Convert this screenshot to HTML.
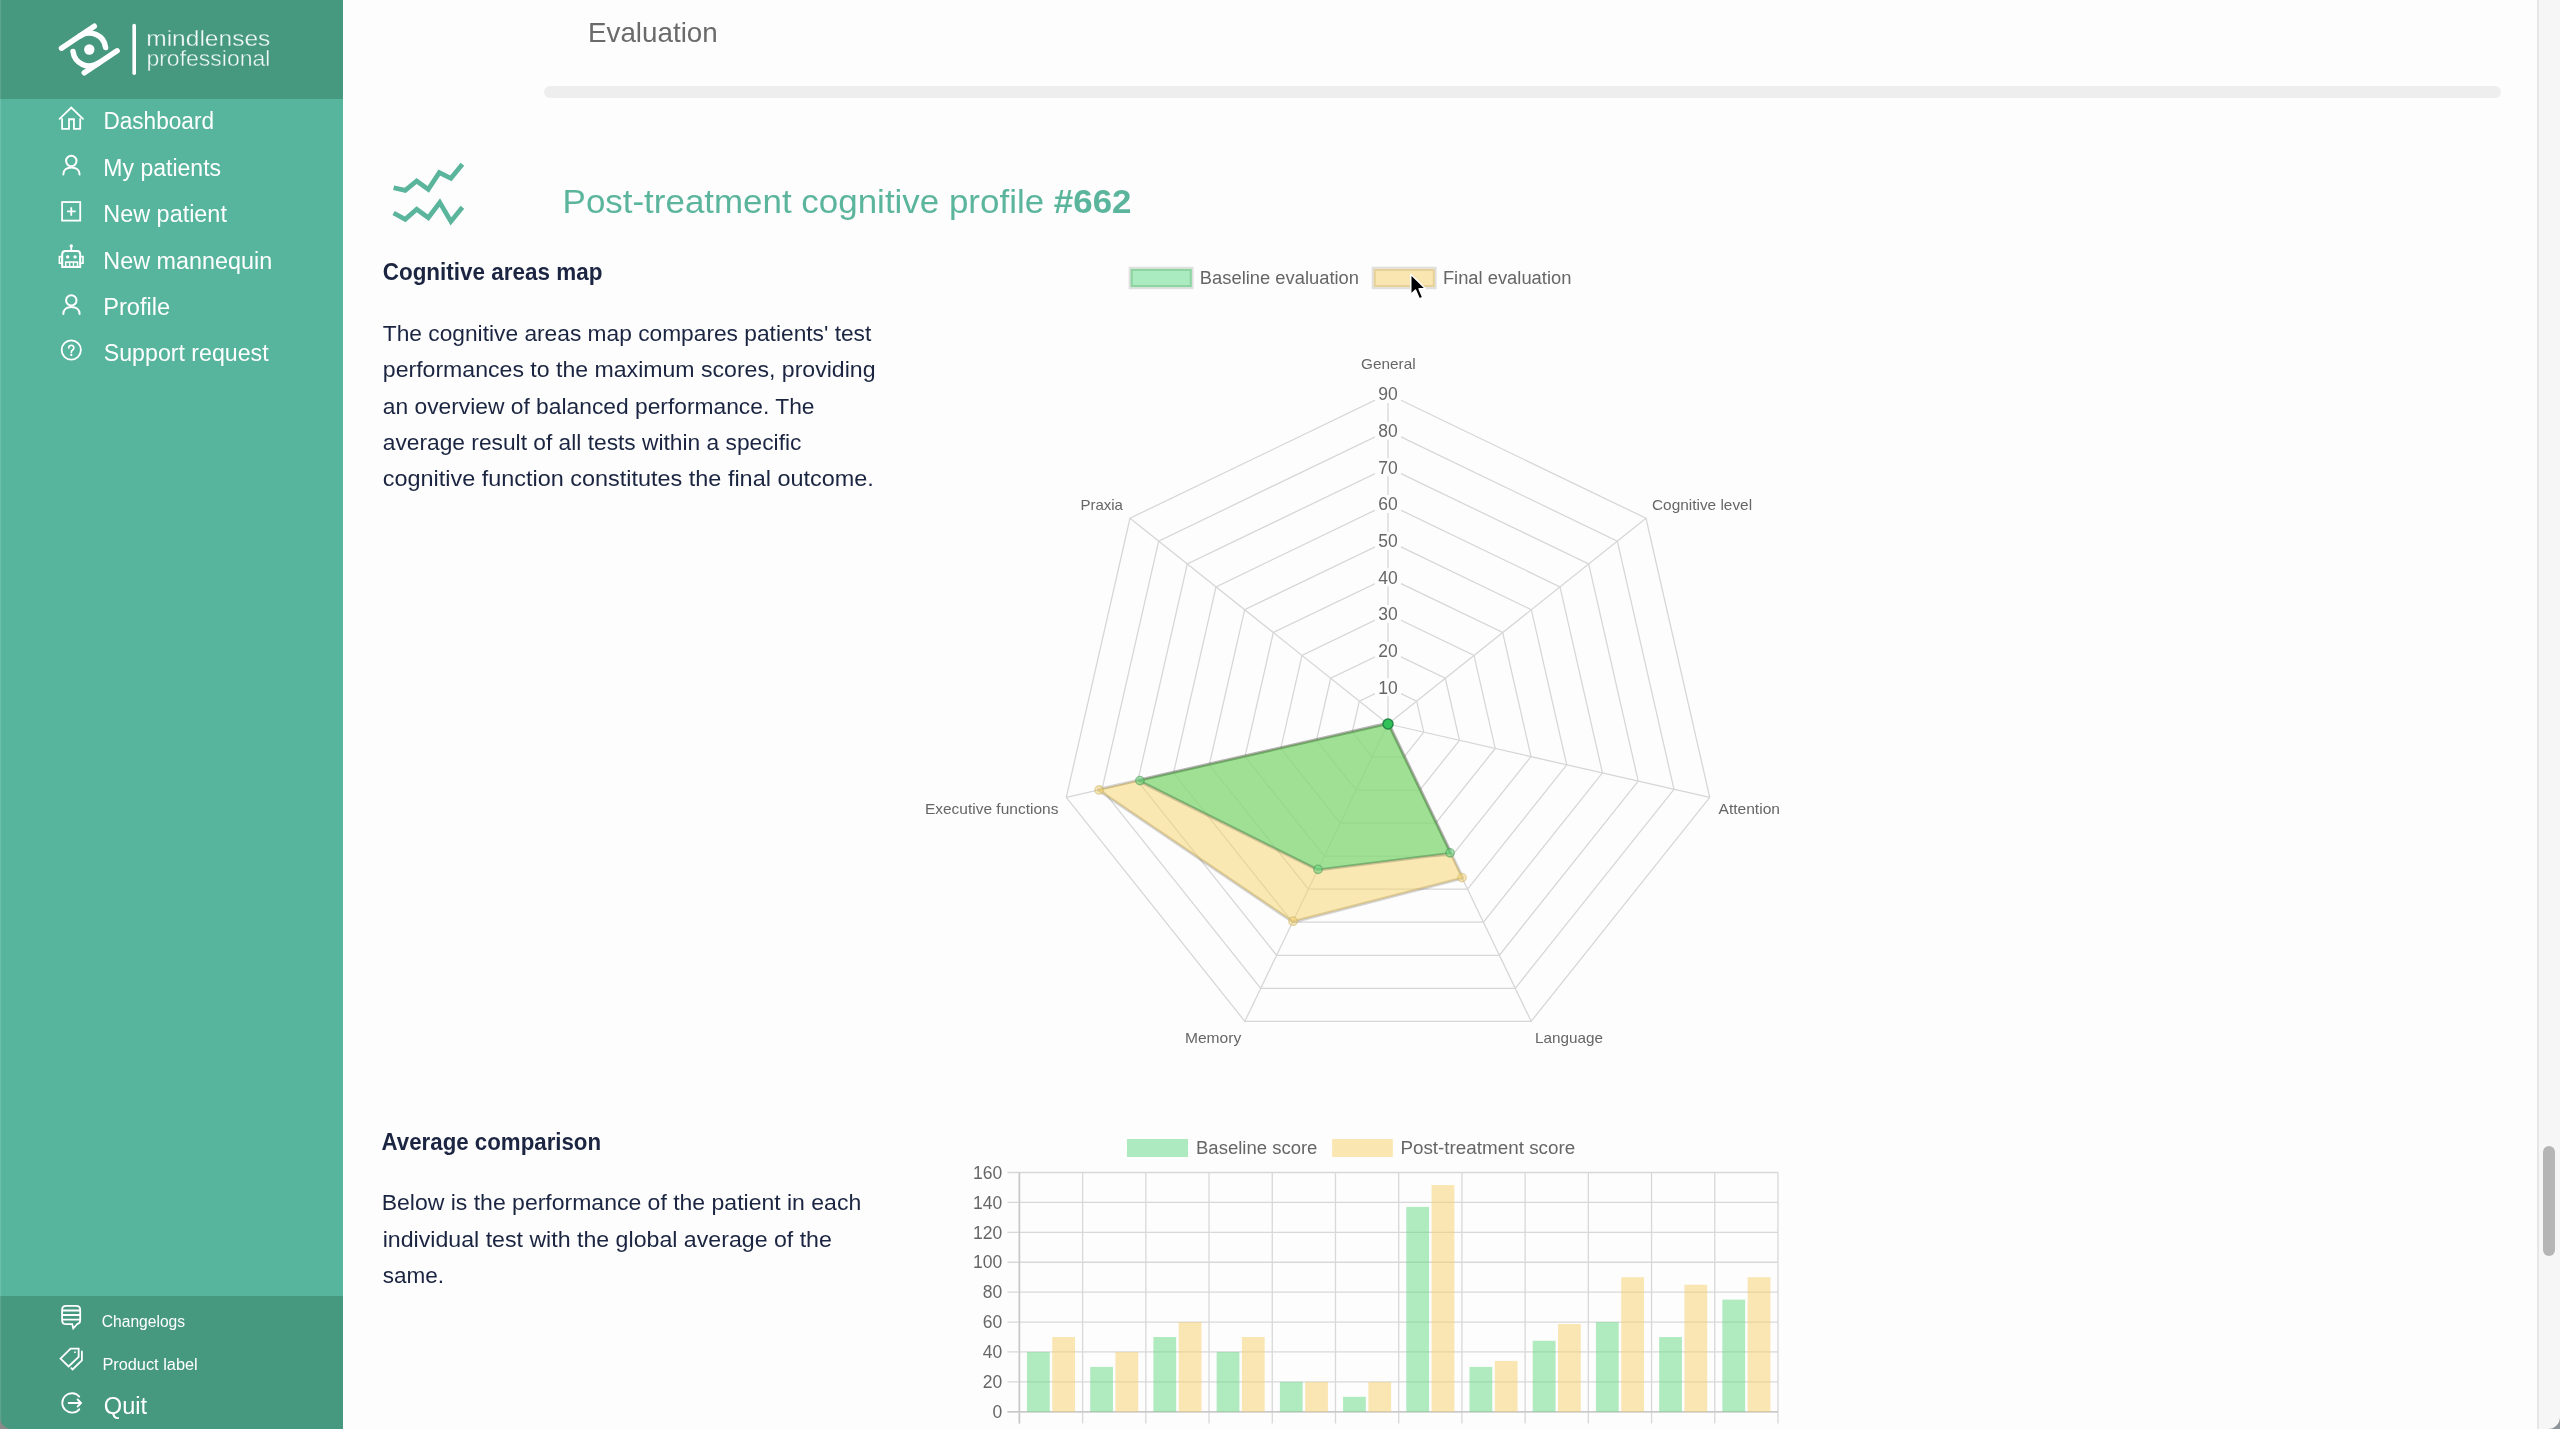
<!DOCTYPE html>
<html><head><meta charset="utf-8"><title>Evaluation - mindlenses professional</title>
<style>
html,body{margin:0;padding:0;width:2560px;height:1429px;overflow:hidden;background:#fdfdfd;font-family:"Liberation Sans", sans-serif;}
svg{display:block;will-change:transform;}
</style></head><body>
<svg width="2560" height="1429" viewBox="0 0 2560 1429" font-family='"Liberation Sans", sans-serif'><rect x="343" y="0" width="2194" height="1429" fill="#fdfdfd"/><text x="588.0" y="42.0" font-size="28" fill="#6a6a6a" textLength="129.7" lengthAdjust="spacingAndGlyphs">Evaluation</text><rect x="544" y="86" width="1957" height="12" rx="6" fill="#eeeeee"/><g stroke="#5bb59c" stroke-width="4.7" fill="none" stroke-linejoin="miter" stroke-miterlimit="10"><polyline points="393.6,187.8 405.2,190.4 416.7,181 428.3,189.4 439.3,172.6 450.9,178.3 462.4,164.2"/><polyline points="393.6,213 405.2,219.3 416.7,209.3 428.3,217.7 439.8,202.5 450.9,221.4 462.4,207.2"/></g><text x="562.6" y="213.0" font-size="33" fill="#5bb59c" textLength="568.9" lengthAdjust="spacingAndGlyphs">Post-treatment cognitive profile <tspan font-weight="bold">#662</tspan></text><text x="382.7" y="279.6" font-size="23" font-weight="bold" fill="#1b2541" textLength="219.7" lengthAdjust="spacingAndGlyphs">Cognitive areas map</text><text x="382.8" y="340.5" font-size="22" fill="#1b2541" textLength="488.5" lengthAdjust="spacingAndGlyphs">The cognitive areas map compares patients' test</text><text x="382.8" y="377.0" font-size="22" fill="#1b2541" textLength="492.7" lengthAdjust="spacingAndGlyphs">performances to the maximum scores, providing</text><text x="382.8" y="413.6" font-size="22" fill="#1b2541" textLength="431.7" lengthAdjust="spacingAndGlyphs">an overview of balanced performance. The</text><text x="382.8" y="450.2" font-size="22" fill="#1b2541" textLength="418.6" lengthAdjust="spacingAndGlyphs">average result of all tests within a specific</text><text x="382.7" y="485.7" font-size="22" fill="#1b2541" textLength="491.1" lengthAdjust="spacingAndGlyphs">cognitive function constitutes the final outcome.</text><text x="381.6" y="1149.6" font-size="23" font-weight="bold" fill="#1b2541" textLength="219.5" lengthAdjust="spacingAndGlyphs">Average comparison</text><text x="381.7" y="1210.0" font-size="22" fill="#1b2541" textLength="479.5" lengthAdjust="spacingAndGlyphs">Below is the performance of the patient in each</text><text x="382.7" y="1246.5" font-size="22" fill="#1b2541" textLength="449.2" lengthAdjust="spacingAndGlyphs">individual test with the global average of the</text><text x="382.8" y="1282.7" font-size="22" fill="#1b2541" textLength="61.3" lengthAdjust="spacingAndGlyphs">same.</text><polygon points="1388.00,687.33 1416.67,701.14 1423.75,732.16 1403.91,757.04 1372.09,757.04 1352.25,732.16 1359.33,701.14" fill="none" stroke="#d6d6d6" stroke-width="1.25"/><polygon points="1388.00,650.67 1445.33,678.28 1459.49,740.32 1419.82,790.07 1356.18,790.07 1316.51,740.32 1330.67,678.28" fill="none" stroke="#d6d6d6" stroke-width="1.25"/><polygon points="1388.00,614.00 1474.00,655.42 1495.24,748.48 1435.73,823.11 1340.27,823.11 1280.76,748.48 1302.00,655.42" fill="none" stroke="#d6d6d6" stroke-width="1.25"/><polygon points="1388.00,577.33 1502.67,632.55 1530.99,756.64 1451.64,856.14 1324.36,856.14 1245.01,756.64 1273.33,632.55" fill="none" stroke="#d6d6d6" stroke-width="1.25"/><polygon points="1388.00,540.67 1531.34,609.69 1566.74,764.80 1467.55,889.18 1308.45,889.18 1209.26,764.80 1244.66,609.69" fill="none" stroke="#d6d6d6" stroke-width="1.25"/><polygon points="1388.00,504.00 1560.00,586.83 1602.48,772.95 1483.45,922.21 1292.55,922.21 1173.52,772.95 1216.00,586.83" fill="none" stroke="#d6d6d6" stroke-width="1.25"/><polygon points="1388.00,467.33 1588.67,563.97 1638.23,781.11 1499.36,955.25 1276.64,955.25 1137.77,781.11 1187.33,563.97" fill="none" stroke="#d6d6d6" stroke-width="1.25"/><polygon points="1388.00,430.67 1617.34,541.11 1673.98,789.27 1515.27,988.28 1260.73,988.28 1102.02,789.27 1158.66,541.11" fill="none" stroke="#d6d6d6" stroke-width="1.25"/><polygon points="1388.00,394.00 1646.00,518.25 1709.73,797.43 1531.18,1021.32 1244.82,1021.32 1066.27,797.43 1130.00,518.25" fill="none" stroke="#d6d6d6" stroke-width="1.25"/><line x1="1388.0" y1="724.0" x2="1388.00" y2="394.00" stroke="#d6d6d6" stroke-width="1.25"/><line x1="1388.0" y1="724.0" x2="1646.00" y2="518.25" stroke="#d6d6d6" stroke-width="1.25"/><line x1="1388.0" y1="724.0" x2="1709.73" y2="797.43" stroke="#d6d6d6" stroke-width="1.25"/><line x1="1388.0" y1="724.0" x2="1531.18" y2="1021.32" stroke="#d6d6d6" stroke-width="1.25"/><line x1="1388.0" y1="724.0" x2="1244.82" y2="1021.32" stroke="#d6d6d6" stroke-width="1.25"/><line x1="1388.0" y1="724.0" x2="1066.27" y2="797.43" stroke="#d6d6d6" stroke-width="1.25"/><line x1="1388.0" y1="724.0" x2="1130.00" y2="518.25" stroke="#d6d6d6" stroke-width="1.25"/><mask id="mF" maskUnits="userSpaceOnUse" x="900" y="300" width="900" height="800"><rect x="900" y="300" width="900" height="800" fill="#fff"/><polygon points="1388.00,724.00 1388.00,724.00 1388.00,724.00 1461.98,877.62 1293.02,921.22 1099.16,789.93 1388.00,724.00" fill="#000"/></mask><mask id="mB" maskUnits="userSpaceOnUse" x="900" y="300" width="900" height="800"><rect x="900" y="300" width="900" height="800" fill="#fff"/><polygon points="1388.00,724.00 1388.00,724.00 1388.00,724.00 1450.05,852.84 1318.00,869.36 1139.91,780.62 1388.00,724.00" fill="#000"/></mask><polygon points="1388.00,724.00 1388.00,724.00 1388.00,724.00 1461.98,877.62 1293.02,921.22 1099.16,789.93 1388.00,724.00" fill="none" stroke="rgba(0,0,0,0.16)" stroke-width="4.5" stroke-linejoin="round" mask="url(#mF)"/><polygon points="1388.00,724.00 1388.00,724.00 1388.00,724.00 1461.98,877.62 1293.02,921.22 1099.16,789.93 1388.00,724.00" fill="rgb(247,211,103)" fill-opacity="0.5" stroke="rgba(205,180,110,0.6)" stroke-width="1.8"/><polygon points="1388.00,724.00 1388.00,724.00 1388.00,724.00 1450.05,852.84 1318.00,869.36 1139.91,780.62 1388.00,724.00" fill="none" stroke="rgba(0,0,0,0.16)" stroke-width="4.5" stroke-linejoin="round" mask="url(#mB)"/><polygon points="1388.00,724.00 1388.00,724.00 1388.00,724.00 1450.05,852.84 1318.00,869.36 1139.91,780.62 1388.00,724.00" fill="rgb(100,219,128)" fill-opacity="0.6" stroke="rgba(85,155,90,0.65)" stroke-width="1.8"/><circle cx="1461.98" cy="877.62" r="4.2" fill="rgba(247,211,103,0.45)" stroke="rgba(205,180,110,0.55)" stroke-width="1.4"/><circle cx="1293.02" cy="921.22" r="4.2" fill="rgba(247,211,103,0.45)" stroke="rgba(205,180,110,0.55)" stroke-width="1.4"/><circle cx="1099.16" cy="789.93" r="4.2" fill="rgba(247,211,103,0.45)" stroke="rgba(205,180,110,0.55)" stroke-width="1.4"/><circle cx="1450.05" cy="852.84" r="4.2" fill="rgba(100,219,128,0.55)" stroke="rgba(85,155,90,0.6)" stroke-width="1.4"/><circle cx="1318.00" cy="869.36" r="4.2" fill="rgba(100,219,128,0.55)" stroke="rgba(85,155,90,0.6)" stroke-width="1.4"/><circle cx="1139.91" cy="780.62" r="4.2" fill="rgba(100,219,128,0.55)" stroke="rgba(85,155,90,0.6)" stroke-width="1.4"/><circle cx="1388.0" cy="724.0" r="5" fill="#33c25a" stroke="#228844" stroke-width="1.5"/><rect x="1375.0" y="678.3333333333334" width="26" height="18" fill="#fdfdfd"/><text x="1388.0" y="693.5" font-size="17.5" text-anchor="middle" fill="#666">10</text><rect x="1375.0" y="641.6666666666666" width="26" height="18" fill="#fdfdfd"/><text x="1388.0" y="656.9" font-size="17.5" text-anchor="middle" fill="#666">20</text><rect x="1375.0" y="605.0" width="26" height="18" fill="#fdfdfd"/><text x="1388.0" y="620.2" font-size="17.5" text-anchor="middle" fill="#666">30</text><rect x="1375.0" y="568.3333333333334" width="26" height="18" fill="#fdfdfd"/><text x="1388.0" y="583.5" font-size="17.5" text-anchor="middle" fill="#666">40</text><rect x="1375.0" y="531.6666666666666" width="26" height="18" fill="#fdfdfd"/><text x="1388.0" y="546.9" font-size="17.5" text-anchor="middle" fill="#666">50</text><rect x="1375.0" y="495.0" width="26" height="18" fill="#fdfdfd"/><text x="1388.0" y="510.2" font-size="17.5" text-anchor="middle" fill="#666">60</text><rect x="1375.0" y="458.3333333333333" width="26" height="18" fill="#fdfdfd"/><text x="1388.0" y="473.5" font-size="17.5" text-anchor="middle" fill="#666">70</text><rect x="1375.0" y="421.6666666666667" width="26" height="18" fill="#fdfdfd"/><text x="1388.0" y="436.9" font-size="17.5" text-anchor="middle" fill="#666">80</text><rect x="1375.0" y="385.0" width="26" height="18" fill="#fdfdfd"/><text x="1388.0" y="400.2" font-size="17.5" text-anchor="middle" fill="#666">90</text><text x="1361.1" y="369.4" font-size="15" fill="#666" textLength="54.5" lengthAdjust="spacingAndGlyphs">General</text><text x="1652.0" y="509.9" font-size="15" fill="#666" textLength="100.1" lengthAdjust="spacingAndGlyphs">Cognitive level</text><text x="1718.5" y="813.5" font-size="15" fill="#666" textLength="61.5" lengthAdjust="spacingAndGlyphs">Attention</text><text x="1535.0" y="1043.4" font-size="15" fill="#666" textLength="67.9" lengthAdjust="spacingAndGlyphs">Language</text><text x="1184.9" y="1043.4" font-size="15" fill="#666" textLength="56.3" lengthAdjust="spacingAndGlyphs">Memory</text><text x="924.9" y="813.5" font-size="15" fill="#666" textLength="133.5" lengthAdjust="spacingAndGlyphs">Executive functions</text><text x="1080.4" y="509.9" font-size="15" fill="#666" textLength="42.6" lengthAdjust="spacingAndGlyphs">Praxia</text><rect x="1129.6" y="267.7" width="63" height="20.5" fill="#abebc0" stroke="#e0e0e0" stroke-width="2"/><rect x="1131.7" y="270" width="59" height="16" fill="none" stroke="#8fd3a2" stroke-width="2"/><text x="1199.8" y="284.0" font-size="18" fill="#666" textLength="159.2" lengthAdjust="spacingAndGlyphs">Baseline evaluation</text><rect x="1372.7" y="267.7" width="63" height="20.5" fill="#f9e6b0" stroke="#e0e0e0" stroke-width="2"/><rect x="1374.8" y="270" width="59" height="16" fill="none" stroke="#e6d19a" stroke-width="2"/><text x="1442.9" y="284.0" font-size="18" fill="#666" textLength="128.5" lengthAdjust="spacingAndGlyphs">Final evaluation</text><line x1="1007.5" y1="1411.80" x2="1778.0" y2="1411.80" stroke="#d8d8d8" stroke-width="1.3"/><text x="1002.3" y="1418.0" font-size="17.5" text-anchor="end" fill="#666">0</text><line x1="1007.5" y1="1381.89" x2="1778.0" y2="1381.89" stroke="#d8d8d8" stroke-width="1.3"/><text x="1002.3" y="1388.1" font-size="17.5" text-anchor="end" fill="#666">20</text><line x1="1007.5" y1="1351.97" x2="1778.0" y2="1351.97" stroke="#d8d8d8" stroke-width="1.3"/><text x="1002.3" y="1358.2" font-size="17.5" text-anchor="end" fill="#666">40</text><line x1="1007.5" y1="1322.06" x2="1778.0" y2="1322.06" stroke="#d8d8d8" stroke-width="1.3"/><text x="1002.3" y="1328.3" font-size="17.5" text-anchor="end" fill="#666">60</text><line x1="1007.5" y1="1292.15" x2="1778.0" y2="1292.15" stroke="#d8d8d8" stroke-width="1.3"/><text x="1002.3" y="1298.4" font-size="17.5" text-anchor="end" fill="#666">80</text><line x1="1007.5" y1="1262.24" x2="1778.0" y2="1262.24" stroke="#d8d8d8" stroke-width="1.3"/><text x="1002.3" y="1268.4" font-size="17.5" text-anchor="end" fill="#666">100</text><line x1="1007.5" y1="1232.33" x2="1778.0" y2="1232.33" stroke="#d8d8d8" stroke-width="1.3"/><text x="1002.3" y="1238.5" font-size="17.5" text-anchor="end" fill="#666">120</text><line x1="1007.5" y1="1202.41" x2="1778.0" y2="1202.41" stroke="#d8d8d8" stroke-width="1.3"/><text x="1002.3" y="1208.6" font-size="17.5" text-anchor="end" fill="#666">140</text><line x1="1007.5" y1="1172.50" x2="1778.0" y2="1172.50" stroke="#d8d8d8" stroke-width="1.3"/><text x="1002.3" y="1178.7" font-size="17.5" text-anchor="end" fill="#666">160</text><line x1="1019.40" y1="1172.5" x2="1019.40" y2="1423.5" stroke="#d8d8d8" stroke-width="1.3"/><line x1="1082.62" y1="1172.5" x2="1082.62" y2="1423.5" stroke="#d8d8d8" stroke-width="1.3"/><line x1="1145.83" y1="1172.5" x2="1145.83" y2="1423.5" stroke="#d8d8d8" stroke-width="1.3"/><line x1="1209.05" y1="1172.5" x2="1209.05" y2="1423.5" stroke="#d8d8d8" stroke-width="1.3"/><line x1="1272.27" y1="1172.5" x2="1272.27" y2="1423.5" stroke="#d8d8d8" stroke-width="1.3"/><line x1="1335.48" y1="1172.5" x2="1335.48" y2="1423.5" stroke="#d8d8d8" stroke-width="1.3"/><line x1="1398.70" y1="1172.5" x2="1398.70" y2="1423.5" stroke="#d8d8d8" stroke-width="1.3"/><line x1="1461.92" y1="1172.5" x2="1461.92" y2="1423.5" stroke="#d8d8d8" stroke-width="1.3"/><line x1="1525.13" y1="1172.5" x2="1525.13" y2="1423.5" stroke="#d8d8d8" stroke-width="1.3"/><line x1="1588.35" y1="1172.5" x2="1588.35" y2="1423.5" stroke="#d8d8d8" stroke-width="1.3"/><line x1="1651.57" y1="1172.5" x2="1651.57" y2="1423.5" stroke="#d8d8d8" stroke-width="1.3"/><line x1="1714.78" y1="1172.5" x2="1714.78" y2="1423.5" stroke="#d8d8d8" stroke-width="1.3"/><line x1="1778.00" y1="1172.5" x2="1778.00" y2="1423.5" stroke="#d8d8d8" stroke-width="1.3"/><line x1="1019.4" y1="1172.5" x2="1019.4" y2="1423.5" stroke="#c8c8c8" stroke-width="1.6"/><line x1="1007.5" y1="1411.8" x2="1778.0" y2="1411.8" stroke="#c8c8c8" stroke-width="1.6"/><rect x="1026.99" y="1351.97" width="22.76" height="59.82" fill="rgb(100,218,132)" fill-opacity="0.5"/><rect x="1052.27" y="1337.02" width="22.76" height="74.78" fill="rgb(246,208,104)" fill-opacity="0.5"/><rect x="1090.20" y="1366.93" width="22.76" height="44.87" fill="rgb(100,218,132)" fill-opacity="0.5"/><rect x="1115.49" y="1351.97" width="22.76" height="59.82" fill="rgb(246,208,104)" fill-opacity="0.5"/><rect x="1153.42" y="1337.02" width="22.76" height="74.78" fill="rgb(100,218,132)" fill-opacity="0.5"/><rect x="1178.71" y="1322.06" width="22.76" height="89.74" fill="rgb(246,208,104)" fill-opacity="0.5"/><rect x="1216.64" y="1351.97" width="22.76" height="59.82" fill="rgb(100,218,132)" fill-opacity="0.5"/><rect x="1241.92" y="1337.02" width="22.76" height="74.78" fill="rgb(246,208,104)" fill-opacity="0.5"/><rect x="1279.85" y="1381.89" width="22.76" height="29.91" fill="rgb(100,218,132)" fill-opacity="0.5"/><rect x="1305.14" y="1381.89" width="22.76" height="29.91" fill="rgb(246,208,104)" fill-opacity="0.5"/><rect x="1343.07" y="1396.84" width="22.76" height="14.96" fill="rgb(100,218,132)" fill-opacity="0.5"/><rect x="1368.36" y="1381.89" width="22.76" height="29.91" fill="rgb(246,208,104)" fill-opacity="0.5"/><rect x="1406.29" y="1206.90" width="22.76" height="204.90" fill="rgb(100,218,132)" fill-opacity="0.5"/><rect x="1431.57" y="1185.06" width="22.76" height="226.74" fill="rgb(246,208,104)" fill-opacity="0.5"/><rect x="1469.50" y="1366.93" width="22.76" height="44.87" fill="rgb(100,218,132)" fill-opacity="0.5"/><rect x="1494.79" y="1360.95" width="22.76" height="50.85" fill="rgb(246,208,104)" fill-opacity="0.5"/><rect x="1532.72" y="1340.76" width="22.76" height="71.04" fill="rgb(100,218,132)" fill-opacity="0.5"/><rect x="1558.01" y="1324.01" width="22.76" height="87.79" fill="rgb(246,208,104)" fill-opacity="0.5"/><rect x="1595.94" y="1322.06" width="22.76" height="89.74" fill="rgb(100,218,132)" fill-opacity="0.5"/><rect x="1621.22" y="1277.19" width="22.76" height="134.61" fill="rgb(246,208,104)" fill-opacity="0.5"/><rect x="1659.15" y="1337.02" width="22.76" height="74.78" fill="rgb(100,218,132)" fill-opacity="0.5"/><rect x="1684.44" y="1284.67" width="22.76" height="127.13" fill="rgb(246,208,104)" fill-opacity="0.5"/><rect x="1722.37" y="1299.63" width="22.76" height="112.17" fill="rgb(100,218,132)" fill-opacity="0.5"/><rect x="1747.66" y="1277.19" width="22.76" height="134.61" fill="rgb(246,208,104)" fill-opacity="0.5"/><rect x="1127" y="1139" width="61" height="18" fill="#aeeabf"/><text x="1196.0" y="1154.1" font-size="18" fill="#666" textLength="121.4" lengthAdjust="spacingAndGlyphs">Baseline score</text><rect x="1332.2" y="1139" width="60.6" height="18" fill="#f9e6b0"/><text x="1400.4" y="1154.1" font-size="18" fill="#666" textLength="174.8" lengthAdjust="spacingAndGlyphs">Post-treatment score</text><rect x="2537" y="0" width="23" height="1429" fill="#f6f6f6"/><rect x="2537" y="0" width="2" height="1429" fill="#e6e6e6"/><rect x="2543" y="1146" width="12" height="110" rx="6" fill="#b5b5b5"/><rect x="0" y="0" width="343" height="99" fill="#46987f"/><rect x="0" y="99" width="343" height="1197" fill="#57b59d"/><rect x="0" y="1296" width="343" height="133" fill="#46987f"/><g stroke="#fff" stroke-width="5.5" stroke-linecap="round" fill="none"><line x1="61.5" y1="48.2" x2="94.3" y2="26.2"/><line x1="84.3" y1="72.8" x2="117.1" y2="50.8"/><path d="M80.13,35.90 A16.4,16.4 0 0 1 105.58,47.50"/><path d="M98.47,63.10 A16.4,16.4 0 0 1 73.02,51.50"/></g><circle cx="89.3" cy="49.5" r="5.2" fill="#fff"/><line x1="134.2" y1="25.5" x2="134.2" y2="73.2" stroke="#fff" stroke-width="3.6" stroke-linecap="round"/><text x="146.2" y="46.1" font-size="22.5" fill="#f0f9f5" textLength="124.2" lengthAdjust="spacingAndGlyphs" stroke="#46987f" stroke-width="0.3">mindlenses</text><text x="146.4" y="65.7" font-size="22.5" fill="#f0f9f5" textLength="124.0" lengthAdjust="spacingAndGlyphs" stroke="#46987f" stroke-width="0.4">professional</text><text x="103.4" y="129.4" font-size="23.5" fill="#fff" textLength="110.6" lengthAdjust="spacingAndGlyphs">Dashboard</text><text x="103.3" y="175.9" font-size="23.5" fill="#fff" textLength="117.8" lengthAdjust="spacingAndGlyphs">My patients</text><text x="103.3" y="222.4" font-size="23.5" fill="#fff" textLength="123.6" lengthAdjust="spacingAndGlyphs">New patient</text><text x="103.3" y="269.3" font-size="23.5" fill="#fff" textLength="168.9" lengthAdjust="spacingAndGlyphs">New mannequin</text><text x="103.3" y="315.3" font-size="23.5" fill="#fff" textLength="66.8" lengthAdjust="spacingAndGlyphs">Profile</text><text x="103.8" y="361.3" font-size="23.5" fill="#fff" textLength="164.8" lengthAdjust="spacingAndGlyphs">Support request</text><g stroke="#fff" stroke-width="1.8" fill="none" stroke-linecap="round" stroke-linejoin="miter"><path d="M59.6,118.9 L71.26,107.6 L83.0,118.9" /><path d="M62.1,118.2 V128.9 H69.0 V119.25 H73.95 V128.9 H80.2 V118.2" stroke-linecap="butt"/></g><g stroke="#fff" stroke-width="1.8" fill="none" stroke-linecap="round" stroke-linejoin="miter"><circle cx="71.3" cy="161.0" r="5.2" stroke-width="2"/><path d="M63.3,174.6 C63.3,170.0 66.8,167.6 71.45,167.6 C76.1,167.6 79.6,170.0 79.6,174.6" stroke-width="2"/></g><g stroke="#fff" stroke-width="1.8" fill="none" stroke-linecap="round" stroke-linejoin="miter"><circle cx="71.3" cy="300.4" r="5.2" stroke-width="2"/><path d="M63.3,314.0 C63.3,309.4 66.8,307.0 71.45,307.0 C76.1,307.0 79.6,309.4 79.6,314.0" stroke-width="2"/></g><g stroke="#fff" stroke-width="1.8" fill="none" stroke-linecap="round" stroke-linejoin="miter"><rect x="62.1" y="202.05" width="18.1" height="18.55"/><path d="M71.26,207.2 V215.7 M67.0,211.45 H75.7" stroke-linecap="butt"/></g><g stroke="#fff" stroke-width="1.8" fill="none" stroke-linecap="round" stroke-linejoin="miter"><path d="M71.26,247.5 V251.1"/><circle cx="71.26" cy="246.05" r="1.7" fill="#fff" stroke="none"/><path d="M62.2,267 V254.4 Q62.2,251.1 65.5,251.1 H76.9 Q80.2,251.1 80.2,254.4 V267 Z" stroke-width="2"/><rect x="59.4" y="256.6" width="2.8" height="6.6" stroke-width="1.6"/><rect x="80.2" y="256.6" width="2.8" height="6.6" stroke-width="1.6"/><rect x="65.7" y="262.1" width="11.8" height="4.9" stroke-width="1.6"/><path d="M69.6,262.1 V267 M73.5,262.1 V267" stroke-width="1.4"/><circle cx="67.7" cy="256.9" r="1.7" fill="#fff" stroke="none"/><circle cx="75.07" cy="256.9" r="1.7" fill="#fff" stroke="none"/></g><g stroke="#fff" stroke-width="1.8" fill="none" stroke-linecap="round" stroke-linejoin="miter"><circle cx="71.26" cy="350.0" r="9.6"/><path d="M68.7,347.9 A2.56,2.56 0 1 1 72.9,349.8 Q71.3,350.8 71.3,352.4" stroke-width="1.7"/><circle cx="71.3" cy="355.0" r="1.15" fill="#fff" stroke="none"/></g><text x="101.8" y="1326.9" font-size="15.6" fill="#fff" textLength="83.3" lengthAdjust="spacingAndGlyphs">Changelogs</text><text x="102.4" y="1369.7" font-size="15.6" fill="#fff" textLength="95.3" lengthAdjust="spacingAndGlyphs">Product label</text><text x="103.8" y="1414.0" font-size="23.5" fill="#fff" textLength="43.3" lengthAdjust="spacingAndGlyphs">Quit</text><g stroke="#fff" stroke-width="1.8" fill="none" stroke-linecap="round" stroke-linejoin="miter"><path d="M66.1,1305.8 H76.2 Q80.2,1305.8 80.2,1309.8 V1320.2 Q80.2,1323.4 77.3,1324.0 L73.3,1328.4 L72.2,1324.2 H66.1 Q62.1,1324.2 62.1,1320.2 V1309.8 Q62.1,1305.8 66.1,1305.8 Z"/><path d="M62.1,1310.5 H80.2 M62.1,1315.0 H80.2 M62.1,1319.7 H80.2" stroke-linecap="butt"/></g><g stroke="#fff" stroke-width="1.8" fill="none" stroke-linecap="round" stroke-linejoin="miter"><path d="M60.5,1358.6 L70.6,1348.7 H78.65 V1356.8 L68.6,1366.4 Z"/><path d="M81.9,1351.4 V1360.4 L72.6,1369.5 L71.3,1368.2"/><circle cx="74.96" cy="1352.2" r="0.9" fill="#fff" stroke="none"/></g><g stroke="#fff" stroke-width="1.8" fill="none" stroke-linecap="round" stroke-linejoin="miter"><path d="M79.3,1396.6 A9.7,9.7 0 1 0 79.3,1409.3"/><path d="M68.6,1403 H81.0 M77.6,1399.5 L81.1,1403 L77.6,1406.5"/></g><path d="M1410.8,274.3 L1410.8,294.5 L1415.5,290 L1419.3,298.8 L1422.6,297.3 L1419,288.8 L1425.3,288.6 Z" fill="#000" stroke="#fff" stroke-width="1.4" stroke-linejoin="round"/><rect x="0" y="0" width="1.2" height="1429" fill="#ffffff" fill-opacity="0.12"/><path d="M0,1417 L0,1429 L12,1429 A12,12 0 0 1 0,1417 Z" fill="#8a8a8a"/><path d="M2560,1417 L2560,1429 L2548,1429 A12,12 0 0 0 2560,1417 Z" fill="#8e9498"/></svg>
</body></html>
